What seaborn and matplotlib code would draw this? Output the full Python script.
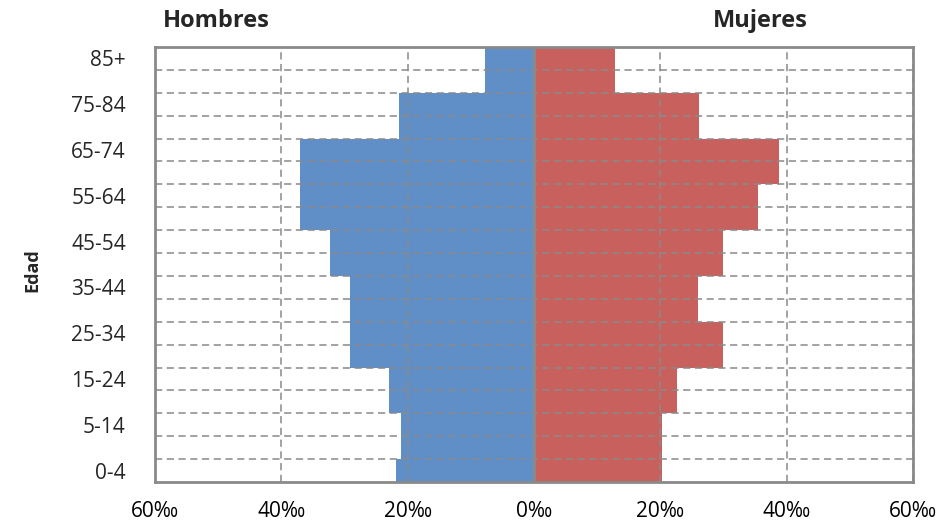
## Population pyramid: Hombres / Mujeres by age group (per mille)

#----------------------------------------------------
# IMPORT
#----------------------------------------------------

import numpy as np
from pandas import DataFrame
import matplotlib
matplotlib.use("Agg")
import matplotlib.pyplot as plt
from matplotlib.ticker import FixedLocator, FuncFormatter
import seaborn as sns

#----------------------------------------------------
# DATA (rows from bottom to top, every row is half an age label band)
#----------------------------------------------------

ROWS = ["r%02d" % i for i in range(19)]
AGE_LABELS = ["0-4", "5-14", "15-24", "25-34", "35-44", "45-54", "55-64", "65-74", "75-84", "85+"]
HOMBRES = [21.8, 21.1, 21.1, 23.0, 23.0, 29.1, 29.1, 29.1, 29.1, 32.3,
           32.3, 37.1, 37.1, 37.1, 37.1, 21.4, 21.4, 7.7, 7.7]
MUJERES = [20.2, 20.2, 20.2, 22.6, 22.6, 29.9, 29.9, 25.9, 25.9, 29.9,
           29.9, 35.5, 35.5, 38.8, 38.8, 26.2, 26.2, 12.9, 12.9]
X_TICKS = [-60, -40, -20, 0, 20, 40, 60]

BLUE = "#5b8ac6"
RED = "#c75c59"
GRID = "#8a8a8a"

#----------------------------------------------------
# PLOT
#----------------------------------------------------

def show():
    sns.set_theme(style="white")
    plt.rcParams["font.family"] = ["Open Sans", "DejaVu Sans"]

    my_df = DataFrame({"row": ROWS, "Hombres": [-v for v in HOMBRES], "Mujeres": MUJERES})
    order = list(reversed(ROWS))  # seaborn puts first category on top

    my_fig = plt.figure(figsize=(9.47, 5.24), dpi=100)
    ax = my_fig.add_axes([155 / 947, 1 - 482 / 524, 758 / 947, 435 / 524])

    sns.barplot(data=my_df, x="Hombres", y="row", order=order, orient="h",
                color=BLUE, saturation=1, width=1, linewidth=0, ax=ax, zorder=2)
    sns.barplot(data=my_df, x="Mujeres", y="row", order=order, orient="h",
                color=RED, saturation=1, width=1, linewidth=0, ax=ax, zorder=2)

    ax.set_xlim(-60, 60)
    ax.set_ylim(len(ROWS) - 0.5, -0.5)

    #x axis
    ax.xaxis.set_major_locator(FixedLocator(X_TICKS))
    ax.xaxis.set_major_formatter(FuncFormatter(lambda v, p: "%d‰" % abs(v)))
    ax.tick_params(axis="x", which="major", direction="out", length=8, width=1.5,
                   color=GRID, labelcolor="black", pad=6, labelsize=15)
    ax.set_xlabel("")

    #y axis, label on every other row counting from the bottom
    label_pos = [len(ROWS) - 1 - 2 * i for i in range(len(AGE_LABELS))]
    ax.set_yticks(label_pos)
    ax.set_yticklabels(AGE_LABELS)
    ax.tick_params(axis="y", which="major", length=0, pad=21, labelsize=15)
    ax.yaxis.set_minor_locator(FixedLocator(np.arange(0.5, len(ROWS) - 1, 1.0)))
    ax.tick_params(axis="y", which="minor", length=0)
    ax.set_ylabel("")

    #grid drawn over the bars, like the original
    ax.grid(False)
    ax.grid(axis="y", which="minor", color=GRID, linestyle=(0, (4, 2.5)), linewidth=1.3, alpha=0.85)
    ax.grid(axis="x", which="major", color=GRID, linestyle=(0, (4, 2.5)), linewidth=1.3, alpha=0.85)
    ax.set_axisbelow(False)
    for patch in ax.patches:
        patch.set_alpha(0.97)
    ax.axvline(0, color=GRID, linewidth=2, zorder=4)

    for side in ["left", "right", "top", "bottom"]:
        ax.spines[side].set_visible(True)
        ax.spines[side].set_color(GRID)
        ax.spines[side].set_linewidth(2)

    my_fig.text(216 / 947, 1 - 21 / 524, "Hombres", ha="center", va="center",
                fontsize=17, fontweight="bold")
    my_fig.text(760 / 947, 1 - 21 / 524, "Mujeres", ha="center", va="center",
                fontsize=17, fontweight="bold")
    my_fig.text(32 / 947, 1 - 270 / 524, "Edad", ha="center", va="center",
                rotation=90, fontsize=13, fontweight="bold")

    my_fig.savefig("out.png", dpi=100)
    return


def main():
    show()


if __name__ == '__main__':
    main()
